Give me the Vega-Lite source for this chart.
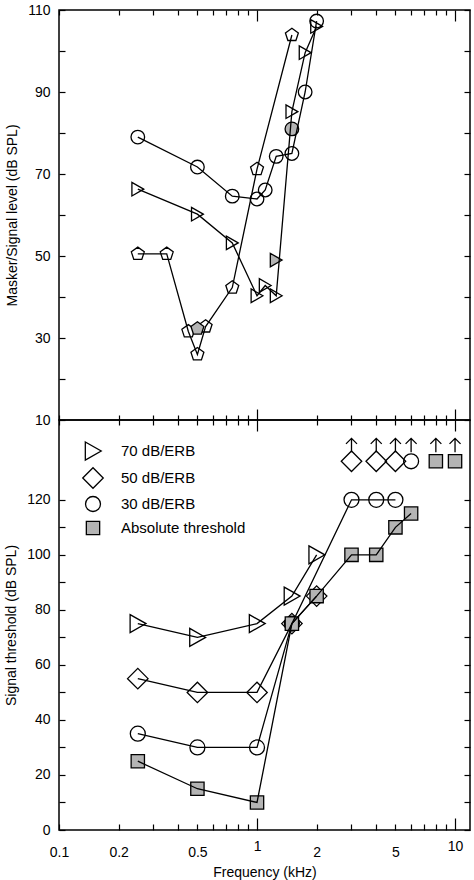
{
  "$schema": "https://vega.github.io/schema/vega-lite/v6.json",
  "background": "white",
  "padding": {"left": 3, "top": 2, "right": 2, "bottom": 0},
  "spacing": 0,
  "bounds": "flush",
  "resolve": {"scale": {"shape": "independent", "fill": "independent", "stroke": "independent"}},
  "config": {
    "font": "Liberation Sans",
    "view": {"stroke": "black", "strokeWidth": 1.5},
    "axis": {
      "domain": false,
      "grid": false,
      "tickColor": "black",
      "tickWidth": 1.2,
      "labelColor": "black",
      "labelFontSize": 14,
      "labelFont": "Liberation Sans",
      "labelOverlap": false,
      "labelFlush": false,
      "labelBound": false,
      "titleFont": "Liberation Sans",
      "titleFontSize": 14,
      "titleFontWeight": "normal",
      "titleColor": "black"
    }
  },
  "datasets": {
    "masker": [
      {"freq": 0.25, "level": 79, "series": "B", "group": "line"},
      {"freq": 0.5, "level": 71.7, "series": "B", "group": "line"},
      {"freq": 0.75, "level": 64.6, "series": "B", "group": "line"},
      {"freq": 1.0, "level": 63.9, "series": "B", "group": "line"},
      {"freq": 1.1, "level": 66.1, "series": "B", "group": "line"},
      {"freq": 1.25, "level": 74.3, "series": "B", "group": "line"},
      {"freq": 1.5, "level": 75, "series": "B", "group": "line"},
      {"freq": 1.75, "level": 90, "series": "B", "group": "line"},
      {"freq": 2.0, "level": 107.3, "series": "B", "group": "line"},
      {"freq": 1.5, "level": 81, "series": "B", "group": "single"},
      {"freq": 0.25, "level": 66.3, "series": "A", "group": "line"},
      {"freq": 0.5, "level": 60.2, "series": "A", "group": "line"},
      {"freq": 0.75, "level": 53.2, "series": "A", "group": "line"},
      {"freq": 1.0, "level": 40.3, "series": "A", "group": "line"},
      {"freq": 1.1, "level": 42.8, "series": "A", "group": "line"},
      {"freq": 1.25, "level": 40.3, "series": "A", "group": "line"},
      {"freq": 1.5, "level": 85.2, "series": "A", "group": "line"},
      {"freq": 1.75, "level": 99.6, "series": "A", "group": "line"},
      {"freq": 2.0, "level": 106, "series": "A", "group": "line"},
      {"freq": 1.25, "level": 49, "series": "A", "group": "single"},
      {"freq": 0.25, "level": 50.5, "series": "C", "group": "line"},
      {"freq": 0.35, "level": 50.5, "series": "C", "group": "line"},
      {"freq": 0.45, "level": 31.6, "series": "C", "group": "line"},
      {"freq": 0.5, "level": 26, "series": "C", "group": "line"},
      {"freq": 0.55, "level": 32.8, "series": "C", "group": "line"},
      {"freq": 0.75, "level": 42.3, "series": "C", "group": "line"},
      {"freq": 1.0, "level": 71.2, "series": "C", "group": "line"},
      {"freq": 1.5, "level": 103.9, "series": "C", "group": "line"},
      {"freq": 0.5, "level": 32.3, "series": "C", "group": "single"}
    ],
    "threshold": [
      {"freq": 0.25, "level": 75, "series": "70 dB/ERB"},
      {"freq": 0.5, "level": 70, "series": "70 dB/ERB"},
      {"freq": 1, "level": 75, "series": "70 dB/ERB"},
      {"freq": 1.5, "level": 85, "series": "70 dB/ERB"},
      {"freq": 2, "level": 100, "series": "70 dB/ERB"},
      {"freq": 0.25, "level": 55, "series": "50 dB/ERB"},
      {"freq": 0.5, "level": 50, "series": "50 dB/ERB"},
      {"freq": 1, "level": 50, "series": "50 dB/ERB"},
      {"freq": 1.5, "level": 75, "series": "50 dB/ERB"},
      {"freq": 2, "level": 85, "series": "50 dB/ERB"},
      {"freq": 0.25, "level": 35, "series": "30 dB/ERB"},
      {"freq": 0.5, "level": 30, "series": "30 dB/ERB"},
      {"freq": 1, "level": 30, "series": "30 dB/ERB"},
      {"freq": 1.5, "level": 75, "series": "30 dB/ERB"},
      {"freq": 3, "level": 120, "series": "30 dB/ERB"},
      {"freq": 4, "level": 120, "series": "30 dB/ERB"},
      {"freq": 5, "level": 120, "series": "30 dB/ERB"},
      {"freq": 0.25, "level": 25, "series": "Absolute threshold"},
      {"freq": 0.5, "level": 15, "series": "Absolute threshold"},
      {"freq": 1, "level": 10, "series": "Absolute threshold"},
      {"freq": 1.5, "level": 75, "series": "Absolute threshold"},
      {"freq": 2, "level": 85, "series": "Absolute threshold"},
      {"freq": 3, "level": 100, "series": "Absolute threshold"},
      {"freq": 4, "level": 100, "series": "Absolute threshold"},
      {"freq": 5, "level": 110, "series": "Absolute threshold"},
      {"freq": 6, "level": 115, "series": "Absolute threshold"}
    ],
    "above": [
      {"freq": 3, "level": 134, "series": "50 dB/ERB"},
      {"freq": 4, "level": 134, "series": "50 dB/ERB"},
      {"freq": 5, "level": 134, "series": "50 dB/ERB"},
      {"freq": 6, "level": 134, "series": "30 dB/ERB"},
      {"freq": 8, "level": 134, "series": "Absolute threshold"},
      {"freq": 10, "level": 134, "series": "Absolute threshold"}
    ]
  },
  "vconcat": [
    {
      "width": 411,
      "height": 410,
      "layer": [
        {
          "data": {"name": "masker"},
          "mark": {"type": "point", "filled": true, "stroke": "black", "strokeWidth": 1.3, "opacity": 1, "size": 185},
          "encoding": {
            "x": {
              "field": "freq", "type": "quantitative",
              "scale": {"type": "log", "domain": [0.1, 11.9], "nice": false},
              "axis": {
                "orient": "bottom", "title": null, "labels": false,
                "values": [0.1, 0.2, 0.3, 0.4, 0.5, 0.6, 0.7, 0.8, 0.9, 1, 2, 3, 4, 5, 6, 7, 8, 9, 10],
                "tickSize": {"condition": {"test": "datum.value == 1 || datum.value == 10", "value": -11}, "value": -5}
              }
            },
            "y": {
              "field": "level", "type": "quantitative",
              "scale": {"domain": [10, 110], "nice": false, "zero": false},
              "axis": {
                "orient": "left", "title": "Masker/Signal level (dB SPL)",
                "values": [10, 20, 30, 40, 50, 60, 70, 80, 90, 100, 110],
                "labelExpr": "datum.value % 20 == 10 ? datum.label : ''",
                "tickSize": -6, "labelPadding": 15, "titlePadding": 8
              }
            },
            "shape": {
              "field": "series", "type": "nominal", "legend": null,
              "scale": {"domain": ["A", "B", "C"], "range": ["triangle-right", "circle", "M0,-1L0.951,-0.309L0.588,0.809L-0.588,0.809L-0.951,-0.309Z"]}
            },
            "fill": {
              "field": "group", "type": "nominal", "legend": null,
              "scale": {"domain": ["line", "single"], "range": ["transparent", "#b4b4b4"]}
            }
          }
        },
        {
          "data": {"name": "masker"},
          "transform": [{"filter": "datum.group == 'line'"}],
          "mark": {"type": "line", "color": "black", "strokeWidth": 1.3},
          "encoding": {
            "x": {
              "field": "freq", "type": "quantitative",
              "scale": {"type": "log", "domain": [0.1, 11.9], "nice": false},
              "axis": {
                "orient": "top", "title": null, "labels": false,
                "values": [0.1, 0.2, 0.3, 0.4, 0.5, 0.6, 0.7, 0.8, 0.9, 1, 2, 3, 4, 5, 6, 7, 8, 9, 10],
                "tickSize": {"condition": {"test": "datum.value == 1 || datum.value == 10", "value": -11}, "value": -5}
              }
            },
            "y": {
              "field": "level", "type": "quantitative",
              "scale": {"domain": [10, 110], "nice": false, "zero": false},
              "axis": {
                "orient": "right", "title": null, "labels": false,
                "values": [10, 20, 30, 40, 50, 60, 70, 80, 90, 100, 110],
                "tickSize": -6
              }
            },
            "detail": {"field": "series", "type": "nominal"}
          }
        }
      ],
      "resolve": {"axis": {"x": "independent", "y": "independent"}}
    },
    {
      "width": 411,
      "height": 410,
      "layer": [
        {
          "data": {"name": "threshold"},
          "mark": {"type": "point", "filled": true, "strokeWidth": 1.3, "opacity": 1, "size": 420},
          "encoding": {
            "x": {
              "field": "freq", "type": "quantitative",
              "scale": {"type": "log", "domain": [0.1, 11.9], "nice": false},
              "axis": {
                "orient": "bottom", "title": "Frequency (kHz)", "format": "~g",
                "values": [0.1, 0.2, 0.3, 0.4, 0.5, 0.6, 0.7, 0.8, 0.9, 1, 2, 3, 4, 5, 6, 7, 8, 9, 10],
                "labelExpr": "indexof([0.1, 0.2, 0.5, 1, 2, 5, 10], datum.value) >= 0 ? datum.label : ''",
                "tickSize": {"condition": {"test": "datum.value == 1 || datum.value == 10", "value": -12}, "value": -6},
                "labelPadding": 21, "titlePadding": 6
              }
            },
            "y": {
              "field": "level", "type": "quantitative",
              "scale": {"domain": [0, 149], "nice": false, "zero": false},
              "axis": {
                "orient": "left", "title": "Signal threshold (dB SPL)",
                "values": [0, 10, 20, 30, 40, 50, 60, 70, 80, 90, 100, 110, 120],
                "labelExpr": "datum.value % 20 == 0 ? datum.label : ''",
                "tickSize": -6, "labelPadding": 15, "titlePadding": 8
              }
            },
            "shape": {
              "field": "series", "type": "nominal",
              "scale": {
                "domain": ["70 dB/ERB", "50 dB/ERB", "30 dB/ERB", "Absolute threshold"],
                "range": [
                  "M-0.75,-0.88L0.8,0L-0.75,0.88Z",
                  "M-1,0L0,-1L1,0L0,1Z",
                  "M-0.73,0A0.73,0.73,0,1,0,0.73,0A0.73,0.73,0,1,0,-0.73,0Z",
                  "M-0.65,-0.65L0.65,-0.65L0.65,0.65L-0.65,0.65Z"
                ]
              },
              "legend": {
                "orient": "none", "legendX": 23, "legendY": 20, "title": null, "padding": 0,
                "labelFontSize": 15, "labelFont": "Liberation Sans", "labelColor": "black",
                "rowPadding": 2, "labelOffset": 17, "symbolSize": 420,
                "symbolStrokeWidth": 1.3, "symbolOpacity": 1
              }
            },
            "fill": {
              "field": "series", "type": "nominal",
              "scale": {"domain": ["70 dB/ERB", "50 dB/ERB", "30 dB/ERB", "Absolute threshold"], "range": ["transparent", "transparent", "transparent", "#b4b4b4"]}
            },
            "stroke": {
              "field": "series", "type": "nominal",
              "scale": {"domain": ["70 dB/ERB", "50 dB/ERB", "30 dB/ERB", "Absolute threshold"], "range": ["black", "black", "black", "black"]}
            }
          }
        },
        {
          "data": {"name": "above"},
          "mark": {"type": "point", "filled": true, "strokeWidth": 1.3, "opacity": 1, "size": 420},
          "encoding": {
            "x": {"field": "freq", "type": "quantitative", "axis": null},
            "y": {"field": "level", "type": "quantitative", "axis": null},
            "shape": {"field": "series", "type": "nominal"},
            "fill": {"field": "series", "type": "nominal"},
            "stroke": {"field": "series", "type": "nominal"}
          }
        },
        {
          "data": {"name": "above"},
          "mark": {
            "type": "point", "filled": false, "stroke": "black", "strokeWidth": 1.3, "opacity": 1,
            "shape": "M0,1L0,-1M-0.8,-0.2L0,-1L0.8,-0.2", "size": 190, "yOffset": -16
          },
          "encoding": {
            "x": {"field": "freq", "type": "quantitative", "axis": null},
            "y": {"field": "level", "type": "quantitative", "axis": null}
          }
        },
        {
          "data": {"name": "threshold"},
          "mark": {"type": "line", "color": "black", "strokeWidth": 1.3},
          "encoding": {
            "x": {
              "field": "freq", "type": "quantitative",
              "axis": {
                "orient": "top", "title": null, "labels": false,
                "values": [0.1, 0.2, 0.3, 0.4, 0.5, 0.6, 0.7, 0.8, 0.9, 1, 2, 3, 4, 5, 6, 7, 8, 9, 10],
                "tickSize": {"condition": {"test": "datum.value == 1 || datum.value == 10", "value": -11}, "value": -5}
              }
            },
            "y": {
              "field": "level", "type": "quantitative",
              "axis": {
                "orient": "right", "title": null, "labels": false,
                "values": [0, 10, 20, 30, 40, 50, 60, 70, 80, 90, 100, 110, 120],
                "tickSize": -6
              }
            },
            "detail": {"field": "series", "type": "nominal"}
          }
        }
      ],
      "resolve": {"axis": {"x": "independent", "y": "independent"}}
    }
  ]
}
